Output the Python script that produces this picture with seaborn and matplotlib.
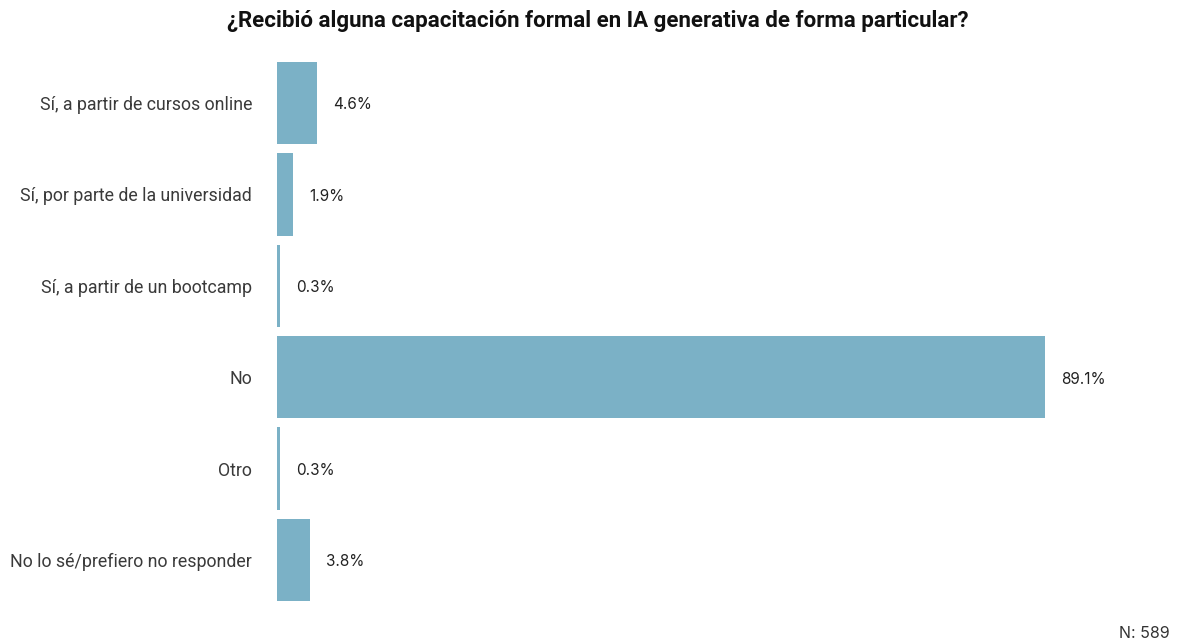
import seaborn as sns
import matplotlib.pyplot as plt
import pandas as pd

categories = [
    "Sí, a partir de cursos online",
    "Sí, por parte de la universidad",
    "Sí, a partir de un bootcamp",
    "No",
    "Otro",
    "No lo sé/prefiero no responder",
]
percentages = [4.6, 1.9, 0.3, 89.1, 0.3, 3.8]
value_labels = ["4.6%", "1.9%", "0.3%", "89.1%", "0.3%", "3.8%"]

df = pd.DataFrame({"respuesta": categories, "pct": percentages})

sns.set_style("white")
plt.rcParams['font.family'] = ['Roboto', 'DejaVu Sans']

fig = plt.figure(figsize=(11.81, 6.4), dpi=100)
ax = fig.add_axes([277 / 1181, 0.0536, (1150 - 277) / 1181, 0.9105 - 0.0536])

sns.barplot(
    data=df,
    x='pct',
    y='respuesta',
    color='#7bb1c6',
    saturation=1,
    width=0.9,
    linewidth=0,
    ax=ax
)

ax.set_xlim(0, 101.3)
ax.set_ylim(5.5, -0.5)
ax.set_xlabel("")
ax.set_ylabel("")
ax.set_xticks([])
ax.tick_params(axis='y', length=0, pad=18, labelsize=12.8, labelcolor='#3a3a3a')
sns.despine(ax=ax, left=True, bottom=True)

# value labels next to each bar
for i, (v, lab) in enumerate(zip(percentages, value_labels)):
    ax.text(v + 1.9, i + 0.02, lab, va='center', ha='left', fontsize=11,
            family=['Inter', 'DejaVu Sans'], color='#222222')

fig.text(598 / 1181, 1 - 21 / 640,
         "¿Recibió alguna capacitación formal en IA generativa de forma particular?",
         ha='center', va='center', fontsize=16, fontweight='bold', color='#111111')
fig.text(1170 / 1181, 1 - 633 / 640, "N: 589", ha='right', va='center',
         fontsize=11.5, color='#333333', family=['Inter', 'DejaVu Sans'])

fig.savefig("out.png", dpi=100)
